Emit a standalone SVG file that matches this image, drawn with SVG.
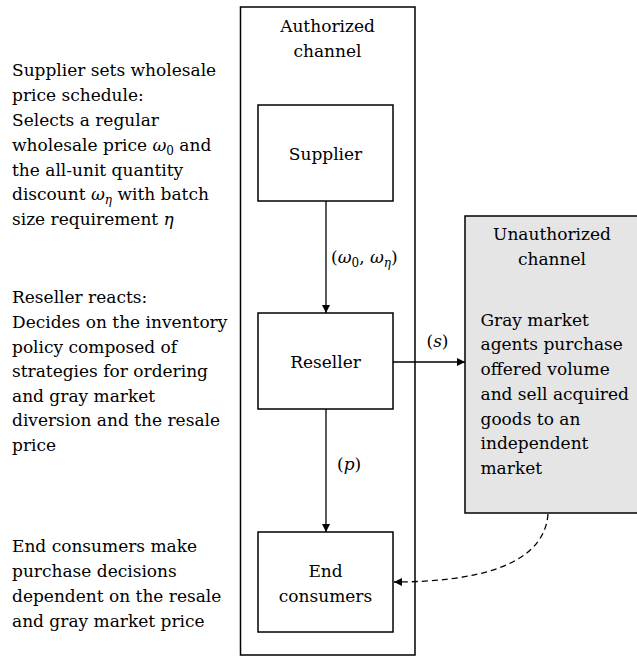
<svg xmlns="http://www.w3.org/2000/svg" width="637" height="662" viewBox="0 0 637 662">
<defs>
<style>
text{font-family:'DejaVu Serif','Liberation Serif',serif;font-size:17px;fill:#000}
.c{text-anchor:middle}
.box{fill:#fff;stroke:#000;stroke-width:1.5}
.line{fill:none;stroke:#000;stroke-width:1.3}
.i{font-style:italic}
.sub{font-size:12px}
</style>
<marker id="ah" viewBox="0 0 10 10" refX="10" refY="5" markerWidth="8" markerHeight="8" markerUnits="userSpaceOnUse" orient="auto">
<path d="M0,0 L10,5 L0,10 z" fill="#000"/>
</marker>
</defs>
<rect width="637" height="662" fill="#fff"/>
<g id="descriptions">
<text x="12" y="76">Supplier sets wholesale</text>
<text x="12" y="101">price schedule:</text>
<text x="12" y="126">Selects a regular</text>
<text x="12" y="150.5">wholesale price <tspan class="i">ω</tspan><tspan class="sub" dy="4">0</tspan><tspan dy="-4"> and</tspan></text>
<text x="12" y="175.5">the all-unit quantity</text>
<text x="12" y="200">discount <tspan class="i">ω</tspan><tspan class="sub i" dy="4">η</tspan><tspan dy="-4"> with batch</tspan></text>
<text x="12" y="225">size requirement <tspan class="i">η</tspan></text>
<text x="12" y="303">Reseller reacts:</text>
<text x="12" y="328">Decides on the inventory</text>
<text x="12" y="352.5">policy composed of</text>
<text x="12" y="377">strategies for ordering</text>
<text x="12" y="401.5">and gray market</text>
<text x="12" y="426">diversion and the resale</text>
<text x="12" y="450.5">price</text>
<text x="12" y="552">End consumers make</text>
<text x="12" y="577">purchase decisions</text>
<text x="12" y="602">dependent on the resale</text>
<text x="12" y="627">and gray market price</text>
</g>
<g id="authorized-channel">
<rect class="box" x="240.5" y="7" width="174.5" height="648"/>
<text class="c" x="327.5" y="32">Authorized</text>
<text class="c" x="327.5" y="56.5">channel</text>
</g>
<g id="unauthorized-channel">
<rect x="465" y="216" width="190" height="297" fill="#e5e5e5" stroke="#000" stroke-width="1.5"/>
<text class="c" x="552" y="240">Unauthorized</text>
<text class="c" x="552" y="265">channel</text>
<text x="480.5" y="325.5">Gray market</text>
<text x="480.5" y="350">agents purchase</text>
<text x="480.5" y="375">offered volume</text>
<text x="480.5" y="399.5">and sell acquired</text>
<text x="480.5" y="424.5">goods to an</text>
<text x="480.5" y="449">independent</text>
<text x="480.5" y="473.5">market</text>
</g>
<g id="supplier">
<rect class="box" x="258" y="105" width="135" height="96"/>
<text class="c" x="325.5" y="160">Supplier</text>
</g>
<g id="reseller">
<rect class="box" x="258" y="313" width="135" height="96"/>
<text class="c" x="325.5" y="368">Reseller</text>
</g>
<g id="end-consumers">
<rect class="box" x="258" y="532" width="135" height="100"/>
<text class="c" x="325.5" y="577">End</text>
<text class="c" x="325.5" y="602">consumers</text>
</g>
<g id="connectors">
<path class="line" d="M326,201 L326,313" marker-end="url(#ah)"/>
<path class="line" d="M326,409 L326,532" marker-end="url(#ah)"/>
<path class="line" d="M393,362 L465,362" marker-end="url(#ah)"/>
<path class="line" d="M548,514 C544,568 470,582 394,582" stroke-dasharray="6,4" marker-end="url(#ah)"/>
<text x="331" y="263">(<tspan class="i">ω</tspan><tspan class="sub" dy="4">0</tspan><tspan dy="-4">, </tspan><tspan class="i">ω</tspan><tspan class="sub i" dy="4">η</tspan><tspan dy="-4">)</tspan></text>
<text class="c" x="437.5" y="347">(<tspan class="i">s</tspan>)</text>
<text x="337" y="470">(<tspan class="i">p</tspan>)</text>
</g>
</svg>
